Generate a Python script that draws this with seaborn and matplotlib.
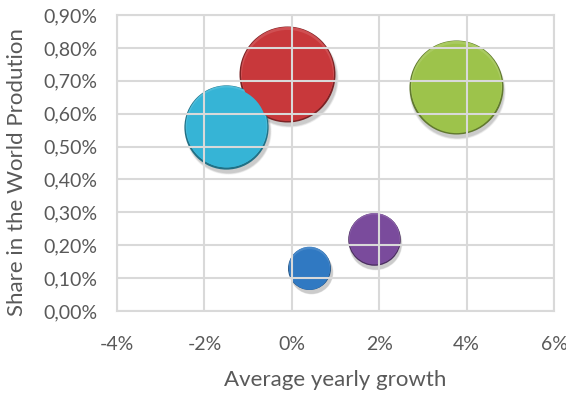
import numpy as np
import pandas as pd
import matplotlib
matplotlib.use("Agg")
import matplotlib.pyplot as plt
import matplotlib.transforms as mtransforms
from matplotlib.colors import to_rgb
import seaborn as sns

# Country bubbles: average yearly growth (%), share in world production (%), bubble size
names = ["A", "B", "C", "D", "E"]
growth = [-0.1, -1.5, 3.75, 1.87, 0.4]
share = [0.72, 0.56, 0.68, 0.22, 0.13]
volume = [100, 77, 96, 30, 20]
colors = ["#C8383B", "#36B4D6", "#9DC34B", "#7A4B9C", "#3079C2"]

x_ticks = [-4, -2, 0, 2, 4, 6]
y_ticks = [0.0, 0.1, 0.2, 0.3, 0.4, 0.5, 0.6, 0.7, 0.8, 0.9]

df = pd.DataFrame({"name": names, "growth": growth, "share": share, "volume": volume})

sns.set_theme(style="white")
plt.rcParams["font.family"] = ["Lato", "DejaVu Sans"]

DPI = 100
fig = plt.figure(figsize=(5.66, 3.96), dpi=DPI)
ax = fig.add_axes([117 / 566, 1 - 311 / 396, (554 - 117) / 566, (311 - 15) / 396])

def area(r_px):
    return (2 * r_px * 72 / DPI) ** 2

R_OUT = 48.0
vmax = max(volume)
frac = df["volume"] / vmax

def shifted(dx, dy):
    return mtransforms.offset_copy(ax.transData, fig=fig, x=dx, y=dy, units="dots")

def shade(c, f):
    r, g, b = to_rgb(c)
    if f < 0:
        return (r * (1 + f), g * (1 + f), b * (1 + f))
    return (r + (1 - r) * f, g + (1 - g) * f, b + (1 - b) * f)

# bubble body drawn through seaborn, with rim/shadow layers around it
body_ratio = 0.90
for i, row in df.iterrows():
    col = colors[i]
    s_out = area(R_OUT) * frac[i]
    # soft drop shadow
    for k, a in enumerate([0.05, 0.07, 0.09]):
        ax.scatter([row.growth], [row.share], s=s_out * (1.05 - 0.03 * k), color="black",
                   alpha=a, linewidths=0, transform=shifted(1.5, -4), zorder=1)
    # dark rim
    ax.scatter([row.growth], [row.share], s=s_out, color=shade(col, -0.38),
               linewidths=0, zorder=1.1)
    # lighter upper bevel
    ax.scatter([row.growth], [row.share], s=s_out * 0.94, color=shade(col, 0.12),
               linewidths=0, transform=shifted(0, 1), zorder=1.2)
    # body
    sns.scatterplot(data=df.iloc[[i]], x="growth", y="share", size="volume",
                    sizes=(0, area(R_OUT) * body_ratio), size_norm=(0, vmax),
                    color=col, linewidth=0, legend=False, ax=ax, zorder=1.3)
    ax.collections[-1].set_offset_transform(shifted(0, -0.5))

ax.set_xlim(-4, 6)
ax.set_ylim(0, 0.9)
ax.set_xticks(x_ticks)
ax.set_yticks(y_ticks)
ax.set_xticklabels([f"{t}%" for t in x_ticks])
ax.set_yticklabels([f"{t:.2f}%".replace(".", ",") for t in y_ticks])

grid_col = "#D9D9D9"
ax.set_axisbelow(False)
ax.grid(True, color=grid_col, linewidth=1.5)
for sp in ax.spines.values():
    sp.set_color(grid_col)
    sp.set_linewidth(1.5)
ax.tick_params(length=0, labelsize=14, colors="#595959")
ax.tick_params(axis="y", pad=14)
ax.tick_params(axis="x", pad=18)

ax.set_xlabel("Average yearly growth", fontsize=16, color="#595959", labelpad=12)
ax.set_ylabel("Share in the World Prodution", fontsize=16, color="#595959")
ax.yaxis.set_label_coords(-0.205, 0.47)

fig.savefig("out.png", dpi=DPI)
